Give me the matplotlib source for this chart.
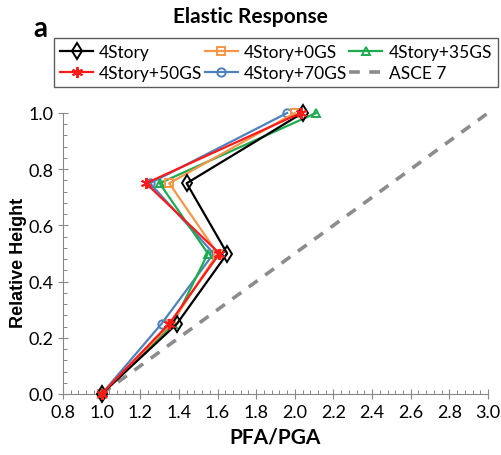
import matplotlib
matplotlib.use("Agg")
import matplotlib.pyplot as plt
from matplotlib.ticker import MultipleLocator
from matplotlib import font_manager

narrow = 'Liberation Sans Narrow'
if not any(f.name == narrow for f in font_manager.fontManager.ttflist):
    narrow = 'Lato'
plt.rcParams['font.family'] = ['Lato', 'DejaVu Sans']

## Data
heights = [0.0, 0.25, 0.5, 0.75, 1.0]
pfa_4story = [1.0, 1.39, 1.65, 1.44, 2.04]
pfa_0gs = [1.0, 1.36, 1.60, 1.35, 2.00]
pfa_35gs = [1.0, 1.37, 1.55, 1.30, 2.11]
pfa_50gs = [1.0, 1.35, 1.61, 1.23, 2.03]
pfa_70gs = [1.0, 1.31, 1.58, 1.25, 1.96]
asce_x = [1.0, 3.0]
asce_h = [0.0, 1.0]

fig = plt.figure(figsize=(5.02, 4.56), dpi=100)
ax = fig.add_axes([63/502, 1-395/456, (488-63)/502, (395-114)/456])

ax.plot(asce_x, asce_h, color='#8c8c8c', lw=2.6, ls=(0, (3, 2.6)), label='ASCE 7', zorder=1)

series = [
    (pfa_70gs, '#4f81bd', 'o', '4Story+70GS'),
    (pfa_35gs, '#1eaa50', '^', '4Story+35GS'),
    (pfa_0gs, '#f79646', 's', '4Story+0GS'),
    (pfa_4story, '#000000', 'd', '4Story'),
    (pfa_50gs, '#ff1a1a', (6, 2, 0), '4Story+50GS'),
]
lines = {}
for vals, col, mk, lab in series:
    ms = {'4Story+50GS': 8, '4Story': 8}.get(lab, 6)
    l, = ax.plot(vals, heights, color=col, lw=1.6, marker=mk, ms=ms,
                 mfc='none', mec=col, mew=1.4, label=lab, clip_on=False, zorder=3)
    lines[lab] = l

ax.set_xlim(0.8, 3.0)
ax.set_ylim(0.0, 1.0)
ax.xaxis.set_major_locator(MultipleLocator(0.2))
ax.xaxis.set_minor_locator(MultipleLocator(0.04))
ax.yaxis.set_major_locator(MultipleLocator(0.2))
ax.yaxis.set_minor_locator(MultipleLocator(0.04))
ax.xaxis.set_major_formatter(plt.FormatStrFormatter('%.1f'))
ax.yaxis.set_major_formatter(plt.FormatStrFormatter('%.1f'))
ax.tick_params(which='major', direction='inout', length=7, width=0.8, color='#888888',
               labelsize=13, labelfontfamily=narrow)
ax.tick_params(which='minor', direction='in', length=3, width=0.7, color='#888888')
ax.spines['top'].set_visible(False)
ax.spines['right'].set_visible(False)
ax.spines['left'].set_color('#888888')
ax.spines['bottom'].set_color('#888888')

ax.set_xlabel('PFA/PGA', fontsize=15, fontweight='bold', family=narrow, labelpad=5)
ax.set_ylabel('Relative Height', fontsize=13, fontweight='bold', family='Liberation Sans')
ax.yaxis.set_label_coords(-0.085, 0.47)

order = ['4Story', '4Story+50GS', '4Story+0GS', '4Story+70GS', '4Story+35GS']
handles = [lines[k] for k in order]
dash = ax.get_lines()[0]
handles.append(dash)
fig.legend(handles, [h.get_label() for h in handles], ncol=3, loc='lower left',
           bbox_to_anchor=(54/502, 1-88/456, (498-54)/502, 50/456), mode='expand',
           prop={'family': narrow, 'size': 12.5}, frameon=True, fancybox=False,
           edgecolor='#333333', handlelength=1.9, handletextpad=0.35, borderpad=0.35,
           labelspacing=0.3, columnspacing=1.0, borderaxespad=0)

fig.text(250/502, 1-17/456, 'Elastic Response', ha='center', va='center', fontsize=15,
         fontweight='bold', family=narrow)
fig.text(40/502, 1-29/456, 'a', ha='center', va='center', fontsize=20, fontweight='bold')

fig.savefig('out.png', dpi=100)
